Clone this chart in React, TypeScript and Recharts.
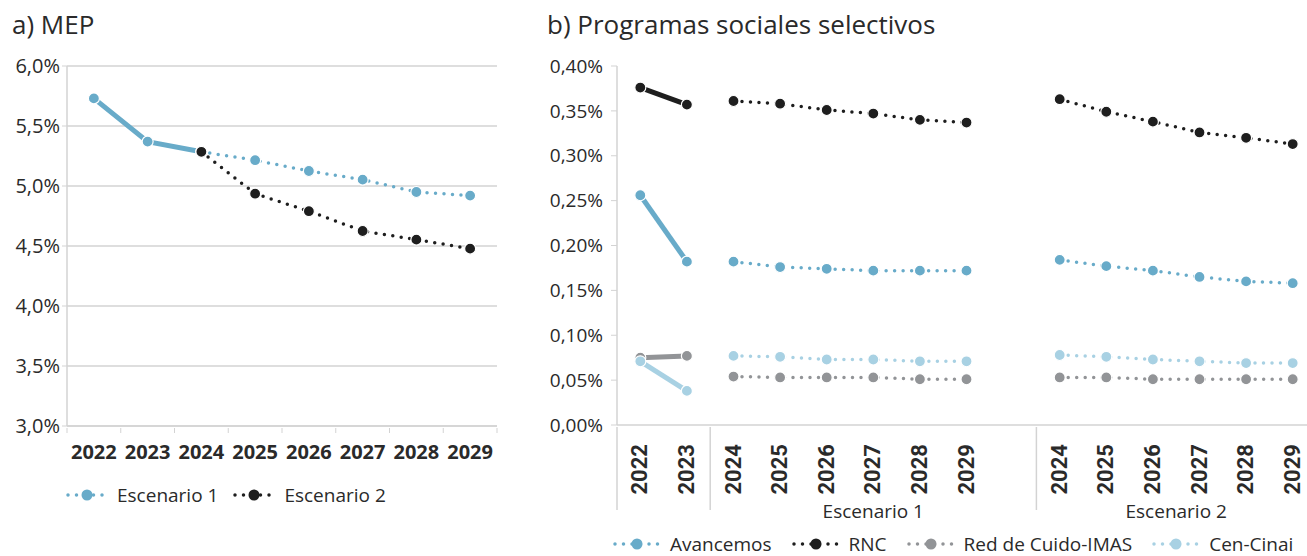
import { LineChart, Line, XAxis, YAxis, CartesianGrid } from 'recharts'

// a) MEP, % del PIB
const mepYears = ['2022', '2023', '2024', '2025', '2026', '2027', '2028', '2029']
const mepHistorico = [5.73, 5.37, 5.285] // 2022-2024
const mepEscenario1 = [5.285, 5.215, 5.125, 5.053, 4.95, 4.92] // 2024-2029
const mepEscenario2 = [5.285, 4.936, 4.79, 4.625, 4.553, 4.478] // 2024-2029
const mepTicks = [3, 3.5, 4, 4.5, 5, 5.5, 6]

// b) Programas sociales selectivos
// 2022, 2023 | Escenario 1: 2024-2029, (blank) | Escenario 2: 2024-2029
const progCats = ['2022', '2023', '2024', '2025', '2026', '2027', '2028', '2029', '', '2024', '2025', '2026', '2027', '2028', '2029']
const progTicks = [0, 0.05, 0.1, 0.15, 0.2, 0.25, 0.3, 0.35, 0.4]

const avancemosHist = [0.256, 0.182]
const avancemosE1 = [0.182, 0.176, 0.174, 0.172, 0.172, 0.172]
const avancemosE2 = [0.184, 0.177, 0.172, 0.165, 0.16, 0.158]

const rncHist = [0.376, 0.357]
const rncE1 = [0.361, 0.358, 0.351, 0.347, 0.34, 0.337]
const rncE2 = [0.363, 0.349, 0.338, 0.326, 0.32, 0.313]

const redCuidoHist = [0.075, 0.077]
const redCuidoE1 = [0.054, 0.053, 0.053, 0.053, 0.051, 0.051]
const redCuidoE2 = [0.053, 0.053, 0.051, 0.051, 0.051, 0.051]

const cenCinaiHist = [0.071, 0.038]
const cenCinaiE1 = [0.077, 0.076, 0.073, 0.073, 0.071, 0.071]
const cenCinaiE2 = [0.078, 0.076, 0.073, 0.071, 0.069, 0.069]

const BLUE = '#68abc9'
const BLACK = '#1e1e1e'
const GRAY = '#929497'
const LIGHT = '#a8d1e3'
const AXIS = '#d3d3d3'
const TEXT = '#2a2a2a'
const FONT = "'Open Sans', sans-serif"

// half a category slot, used as point-scale padding so marks sit mid-slot
const MEP_HALF = 430 / mepYears.length / 2
const PROG_HALF = 699 / progCats.length / 2

const mepData = mepYears.map((year, i) => ({
  year,
  hist: i < 3 ? mepHistorico[i] : null,
  esc1: i >= 2 ? mepEscenario1[i - 2] : null,
  esc2: i >= 2 ? mepEscenario2[i - 2] : null,
}))

function split(i: number, hist: number[], e1: number[], e2: number[]) {
  if (i < 2) return [hist[i], null]
  if (i < 8) return [null, e1[i - 2]]
  if (i >= 9) return [null, e2[i - 9]]
  return [null, null]
}

const progData = progCats.map((cat, i) => {
  const [avH, avP] = split(i, avancemosHist, avancemosE1, avancemosE2)
  const [rnH, rnP] = split(i, rncHist, rncE1, rncE2)
  const [rcH, rcP] = split(i, redCuidoHist, redCuidoE1, redCuidoE2)
  const [ccH, ccP] = split(i, cenCinaiHist, cenCinaiE1, cenCinaiE2)
  return { cat, avH, avP, rnH, rnP, rcH, rcP, ccH, ccP }
})

// dots drawn by hand so they don't inherit the dotted dasharray
function makeDot(color: string) {
  // eslint-disable-next-line @typescript-eslint/no-explicit-any
  return (props: any) => {
    const { cx, cy, value, index } = props
    if (value == null || cx == null || cy == null) return <g key={index} />
    return <circle key={index} cx={cx} cy={cy} r={5.5} fill={color} stroke="#fff" strokeWidth={1.2} />
  }
}

const dotted = { strokeWidth: 3.5, strokeDasharray: '0 8.5', strokeLinecap: 'round' as const }

// eslint-disable-next-line @typescript-eslint/no-explicit-any
function MepTick(props: any) {
  const { x, y, payload, index } = props
  const half = MEP_HALF
  return (
    <g>
      <line x1={x - half} y1={y} x2={x - half} y2={y + 5} stroke={AXIS} />
      {index === mepYears.length - 1 && <line x1={x + half} y1={y} x2={x + half} y2={y + 5} stroke={AXIS} />}
      <text x={x} y={y + 31} textAnchor="middle" fontWeight={700} fontSize={20} fill={TEXT}>
        {payload.value}
      </text>
    </g>
  )
}

// eslint-disable-next-line @typescript-eslint/no-explicit-any
function ProgTick(props: any) {
  const { x, y, index } = props
  const half = PROG_HALF
  const label = progCats[index]
  const tx = x + 7
  const ty = y + 17
  return (
    <g>
      {(index === 0 || index === 2 || index === 9) && (
        <line x1={x - half} y1={y} x2={x - half} y2={y + 83} stroke={AXIS} strokeWidth={1.5} />
      )}
      {label !== '' && (
        <text
          x={tx}
          y={ty}
          transform={`rotate(-90, ${tx}, ${ty})`}
          textAnchor="end"
          fontFamily="'Liberation Sans Narrow', 'Roboto', sans-serif"
          fontWeight={700}
          fontSize={22}
          fill={TEXT}
        >
          {label}
        </text>
      )}
      {index === 5 && (
        <text x={x} y={y + 91} textAnchor="middle" fontSize={19} fill={TEXT}>
          Escenario 1
        </text>
      )}
      {index === 11 && (
        <text x={x + half} y={y + 91} textAnchor="middle" fontSize={19} fill={TEXT}>
          Escenario 2
        </text>
      )}
    </g>
  )
}

function LegendIcon({ color, width }: { color: string; width: number }) {
  return (
    <svg width={width} height={14} style={{ display: 'block' }}>
      <line x1={3} y1={7} x2={width - 3} y2={7} stroke={color} {...dotted} />
      <circle cx={width / 2} cy={7} r={5.5} fill={color} />
    </svg>
  )
}

function LegendRow({ items, gap, iconWidth }: { items: { name: string; color: string }[]; gap: number; iconWidth: number }) {
  return (
    <div style={{ display: 'flex', alignItems: 'center', gap, fontSize: 19, color: TEXT, lineHeight: '22px', whiteSpace: 'nowrap' }}>
      {items.map((it) => (
        <div key={it.name} style={{ display: 'flex', alignItems: 'center', gap: 8 }}>
          <LegendIcon color={it.color} width={iconWidth} />
          <span>{it.name}</span>
        </div>
      ))}
    </div>
  )
}

const fmtMep = (v: number) => v.toFixed(1).replace('.', ',') + '%'
const fmtProg = (v: number) => v.toFixed(2).replace('.', ',') + '%'

export default function App() {
  return (
    <div
      style={{
        position: 'fixed',
        left: 0,
        top: 0,
        width: 1307,
        height: 556,
        overflow: 'hidden',
        background: '#fff',
        fontFamily: FONT,
        color: TEXT,
      }}
    >
      <div style={{ position: 'absolute', left: 12, top: 11, fontSize: 26, lineHeight: '26px' }}>a) MEP</div>
      <div style={{ position: 'absolute', left: 547, top: 11, fontSize: 26, lineHeight: '26px' }}>
        b) Programas sociales selectivos
      </div>

      <div style={{ position: 'absolute', left: 0, top: 0 }}>
        <LineChart width={520} height={556} data={mepData} margin={{ top: 66, right: 23, left: 0, bottom: 0 }}>
          <CartesianGrid vertical={false} stroke={AXIS} strokeWidth={1.5} />
          <XAxis
            dataKey="year"
            height={130}
            interval={0}
            padding={{ left: MEP_HALF, right: MEP_HALF }}
            tickSize={0}
            tickLine={false}
            axisLine={{ stroke: AXIS, strokeWidth: 1.5 }}
            tick={MepTick}
          />
          <YAxis
            width={67}
            domain={[3, 6]}
            ticks={mepTicks}
            tickFormatter={fmtMep}
            tickSize={5}
            tickMargin={2}
            tickLine={{ stroke: AXIS }}
            axisLine={{ stroke: AXIS, strokeWidth: 1.5 }}
            tick={{ fill: TEXT, fontSize: 20 }}
          />
          <Line dataKey="hist" stroke={BLUE} strokeWidth={5} dot={makeDot(BLUE)} activeDot={false} isAnimationActive={false} />
          <Line dataKey="esc1" stroke={BLUE} {...dotted} dot={makeDot(BLUE)} activeDot={false} isAnimationActive={false} />
          <Line dataKey="esc2" stroke={BLACK} {...dotted} dot={makeDot(BLACK)} activeDot={false} isAnimationActive={false} />
        </LineChart>
      </div>

      <div style={{ position: 'absolute', left: 530, top: 0 }}>
        <LineChart width={786} height={556} data={progData} margin={{ top: 66, right: 0, left: 0, bottom: 0 }}>
          <XAxis
            dataKey="cat"
            height={131}
            interval={0}
            padding={{ left: PROG_HALF, right: PROG_HALF }}
            tickSize={0}
            tickLine={false}
            axisLine={{ stroke: AXIS, strokeWidth: 1.5 }}
            tick={ProgTick}
          />
          <YAxis
            width={87}
            domain={[0, 0.4]}
            ticks={progTicks}
            tickFormatter={fmtProg}
            tickSize={6}
            tickMargin={8}
            tickLine={{ stroke: AXIS }}
            axisLine={{ stroke: AXIS, strokeWidth: 1.5 }}
            tick={{ fill: TEXT, fontSize: 19 }}
          />
          <Line dataKey="rnH" stroke={BLACK} strokeWidth={5} dot={makeDot(BLACK)} activeDot={false} isAnimationActive={false} />
          <Line dataKey="avH" stroke={BLUE} strokeWidth={5} dot={makeDot(BLUE)} activeDot={false} isAnimationActive={false} />
          <Line dataKey="rcH" stroke={GRAY} strokeWidth={5} dot={makeDot(GRAY)} activeDot={false} isAnimationActive={false} />
          <Line dataKey="ccH" stroke={LIGHT} strokeWidth={5} dot={makeDot(LIGHT)} activeDot={false} isAnimationActive={false} />
          <Line dataKey="rnP" stroke={BLACK} {...dotted} dot={makeDot(BLACK)} activeDot={false} isAnimationActive={false} />
          <Line dataKey="avP" stroke={BLUE} {...dotted} dot={makeDot(BLUE)} activeDot={false} isAnimationActive={false} />
          <Line dataKey="rcP" stroke={GRAY} {...dotted} dot={makeDot(GRAY)} activeDot={false} isAnimationActive={false} />
          <Line dataKey="ccP" stroke={LIGHT} {...dotted} dot={makeDot(LIGHT)} activeDot={false} isAnimationActive={false} />
        </LineChart>
      </div>

      <div style={{ position: 'absolute', left: 65, top: 484 }}>
        <LegendRow
          gap={14}
          iconWidth={44}
          items={[
            { name: 'Escenario 1', color: BLUE },
            { name: 'Escenario 2', color: BLACK },
          ]}
        />
      </div>
      <div style={{ position: 'absolute', left: 612, top: 533 }}>
        <LegendRow
          gap={19}
          iconWidth={50}
          items={[
            { name: 'Avancemos', color: BLUE },
            { name: 'RNC', color: BLACK },
            { name: 'Red de Cuido-IMAS', color: GRAY },
            { name: 'Cen-Cinai', color: LIGHT },
          ]}
        />
      </div>
    </div>
  )
}
